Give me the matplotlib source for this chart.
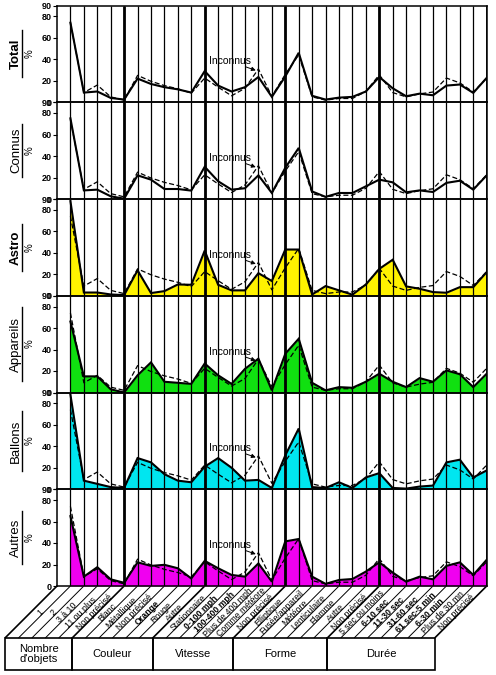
import numpy as np
import matplotlib
matplotlib.use("Agg")
import matplotlib.pyplot as plt
from matplotlib.patches import Rectangle

plt.rcParams['font.family'] = ['Liberation Sans', 'DejaVu Sans']

# ---------------- data ----------------
groups = ["Nombre\nd'objets", "Couleur", "Vitesse", "Forme", "Durée"]
group_sizes = [5, 6, 6, 7, 8]
categories = ["1", "2", "3 à 10", "11 ou plus", "Non précisé",
              "Blanc", "Métallique", "Non précisé", "Orange", "Rouge", "Autre",
              "Stationnaire", "0-100 mph", "100-400 mph", "Plus de 400 mph", "Comme météore", "Non précisé",
              "Elliptique", "Fusée/appareil", "Météore", "Lenticulaire", "Flamme", "Autre", "Non précisé",
              "5 sec ou moins", "6-10 sec", "11-30 sec", "31-60 sec", "61 sec-5 min", "6-30 min",
              "Plus de 30 mn", "Non précisé"]
bold_labels = {"Orange", "0-100 mph", "100-400 mph", "6-10 sec", "11-30 sec", "31-60 sec",
               "61 sec-5 min", "6-30 min"}

panel_names = ["Total", "Connus", "Astro", "Appareils", "Ballons", "Autres"]
panel_bold = [True, False, True, False, False, False]
panel_colors = [None, None, "#fff200", "#10e010", "#00e6f0", "#f000f0"]

inconnus = [74, 9, 16, 5, 2, 25, 19.5, 15.5, 12.5, 8.5, 22.5, 14, 6, 13, 31, 5.5,
            26, 44, 5, 2, 3.5, 3.5, 10, 25.5, 9, 5, 7.8, 9.5, 22.5, 18, 9.5, 22.5]

total = [74, 9, 10, 4, 2.5, 22, 17, 14, 12, 9, 29, 15.5, 10, 14, 23.5, 5,
         24, 46, 6, 2.5, 4.3, 5, 10, 23.5, 13, 5.6, 8, 6.5, 15.5, 16.5, 8.7, 22.7]
connus = [75, 8, 8.7, 2.5, 0.3, 22, 18, 9.3, 9.3, 7.8, 30, 16.5, 8.7, 10, 22, 5.6,
          29, 47.5, 7, 2, 5.6, 5.6, 11.8, 18, 15.5, 6.2, 8, 6.5, 15, 17, 8.7, 22]
astro = [88, 3, 3, 1.2, 0.6, 23.6, 2.5, 4.3, 10.5, 10.2, 42, 10.2, 5, 5, 21, 13.7,
         43, 43, 1.2, 9, 5, 1, 10.5, 25, 33.5, 8.7, 6.5, 3.4, 2.8, 8, 8, 22]
appareils = [66, 15, 15, 3, 0, 16, 28, 10, 9, 8, 27, 16, 8, 22, 31.5, 2,
             36, 50, 9, 2, 5, 4.4, 10, 17.5, 10, 5, 13.4, 10, 20.6, 17, 5, 17.5]
ballons = [88, 8, 5, 2, 1.2, 29, 25, 14, 8, 6.5, 21, 29, 20, 8, 8.7, 1.2,
           31.5, 56.5, 2, 1.2, 6.5, 1.2, 11, 15, 1.2, 0.6, 2.5, 3.4, 25, 27.5, 11, 17.5]
autres = [65, 8.7, 17.5, 6.2, 3, 22, 18.7, 19.7, 16.5, 7, 23.4, 16.5, 10.3, 8.7, 21, 4,
          41.5, 43.7, 8.7, 2, 5.6, 6.5, 13.4, 22, 12.5, 4, 8.7, 6.2, 18.7, 22, 10.3, 24.4]
series = [total, connus, astro, appareils, ballons, autres]

yticks = [0, 20, 40, 60, 80, 90]

# ---------------- layout ----------------
W, H = 496, 675
fig = plt.figure(figsize=(W / 100, H / 100), dpi=100)
L_px, R_px = 57, 486.7
top_px, bot_px = 5.5, 586
ph = (bot_px - top_px) / 6
n = len(categories)
idx = np.arange(n)
ends = np.cumsum(group_sizes) - 1

# overlay for decorations in pixel coordinates
ov = fig.add_axes([0, 0, 1, 1], zorder=-1)
ov.set_xlim(0, W)
ov.set_ylim(H, 0)
ov.axis('off')

axes = []
for k in range(6):
    yt = top_px + k * ph
    ax = fig.add_axes([L_px / W, 1 - (yt + ph) / H, (R_px - L_px) / W, ph / H])
    ax.set_xlim(-1, n - 1)
    ax.set_ylim(0, 90)
    ax.patch.set_alpha(0)
    y = series[k]
    if panel_colors[k]:
        ax.fill_between(idx, 0, y, color=panel_colors[k], lw=0, zorder=1)
    ax.vlines(idx, 0, 90, color='black', lw=0.9, zorder=2)
    ax.vlines(ends, 0, 90, color='black', lw=2.0, zorder=2)
    ax.plot(idx, y, color='black', lw=1.5, zorder=4, solid_joinstyle='miter')
    ax.plot(idx, inconnus, color='black', lw=0.9, ls=(0, (4, 2)), zorder=3)
    ax.set_xticks([])
    ax.set_yticks(yticks)
    ax.set_yticklabels([str(t) for t in yticks], fontsize=6.5, fontweight='bold')
    ax.tick_params(axis='y', direction='out', length=3, width=0.8, pad=1)
    for s in ax.spines.values():
        s.set_linewidth(1.1)
    xa = 13.9
    ya = float(np.interp(xa, idx, inconnus))
    ax.annotate('Inconnus', xy=(xa, ya), xytext=(11.9, 38), ha='center', va='center',
                fontsize=7.5, zorder=6,
                bbox=dict(boxstyle='square,pad=0.05', fc='none', ec='none'),
                arrowprops=dict(arrowstyle='-|>', lw=0.7, color='black',
                                mutation_scale=6, shrinkA=0, shrinkB=1))
    # panel title
    cy = yt + ph / 2
    t = ov.text(16, cy, panel_names[k], rotation=90, ha='center', va='center',
                fontsize=9.5, fontweight='bold' if panel_bold[k] else 'normal')
    half = 7 + len(panel_names[k]) * 3.3
    ov.plot([21.5, 21.5], [cy - half, cy + half], color='black', lw=1.0)
    ov.text(29.5, cy, '%', rotation=90, ha='center', va='center', fontsize=7)
    axes.append(ax)

# pixel x positions of points, via the bottom axis transform
axb = axes[-1]
def px(i):
    disp = axb.transData.transform((i, 0))
    return ov.transData.inverted().transform(disp)[0]

band = 52
ybot = bot_px + band
xs = [px(i) for i in range(-1, n)]
for j, x in enumerate(xs):
    i = j - 1
    lw = 1.2 if (i == -1 or i in ends) else 0.7
    ov.plot([x, x - band], [bot_px, ybot], color='black', lw=lw,
            solid_capstyle='butt')

# category labels in diagonal strips
yc = 611
for i, lab in enumerate(categories):
    xc = (xs[i] + xs[i + 1]) / 2 - (yc - bot_px)
    ov.text(xc + 1.5, yc + 1.5, lab, rotation=45, rotation_mode='anchor',
            ha='center', va='center', fontsize=6.3,
            fontweight='bold' if lab in bold_labels else 'normal')

# group boxes
start = -1
for g, size in zip(groups, group_sizes):
    end = start + size
    x0 = xs[start + 1] - band
    x1 = xs[end + 1] - band
    ov.add_patch(Rectangle((x0, ybot), x1 - x0, 32, fill=False, ec='black', lw=1.2))
    ov.text((x0 + x1) / 2, ybot + 16, g, ha='center', va='center', fontsize=8,
            linespacing=1.1)
    start = end

fig.savefig('out.png', dpi=100)
